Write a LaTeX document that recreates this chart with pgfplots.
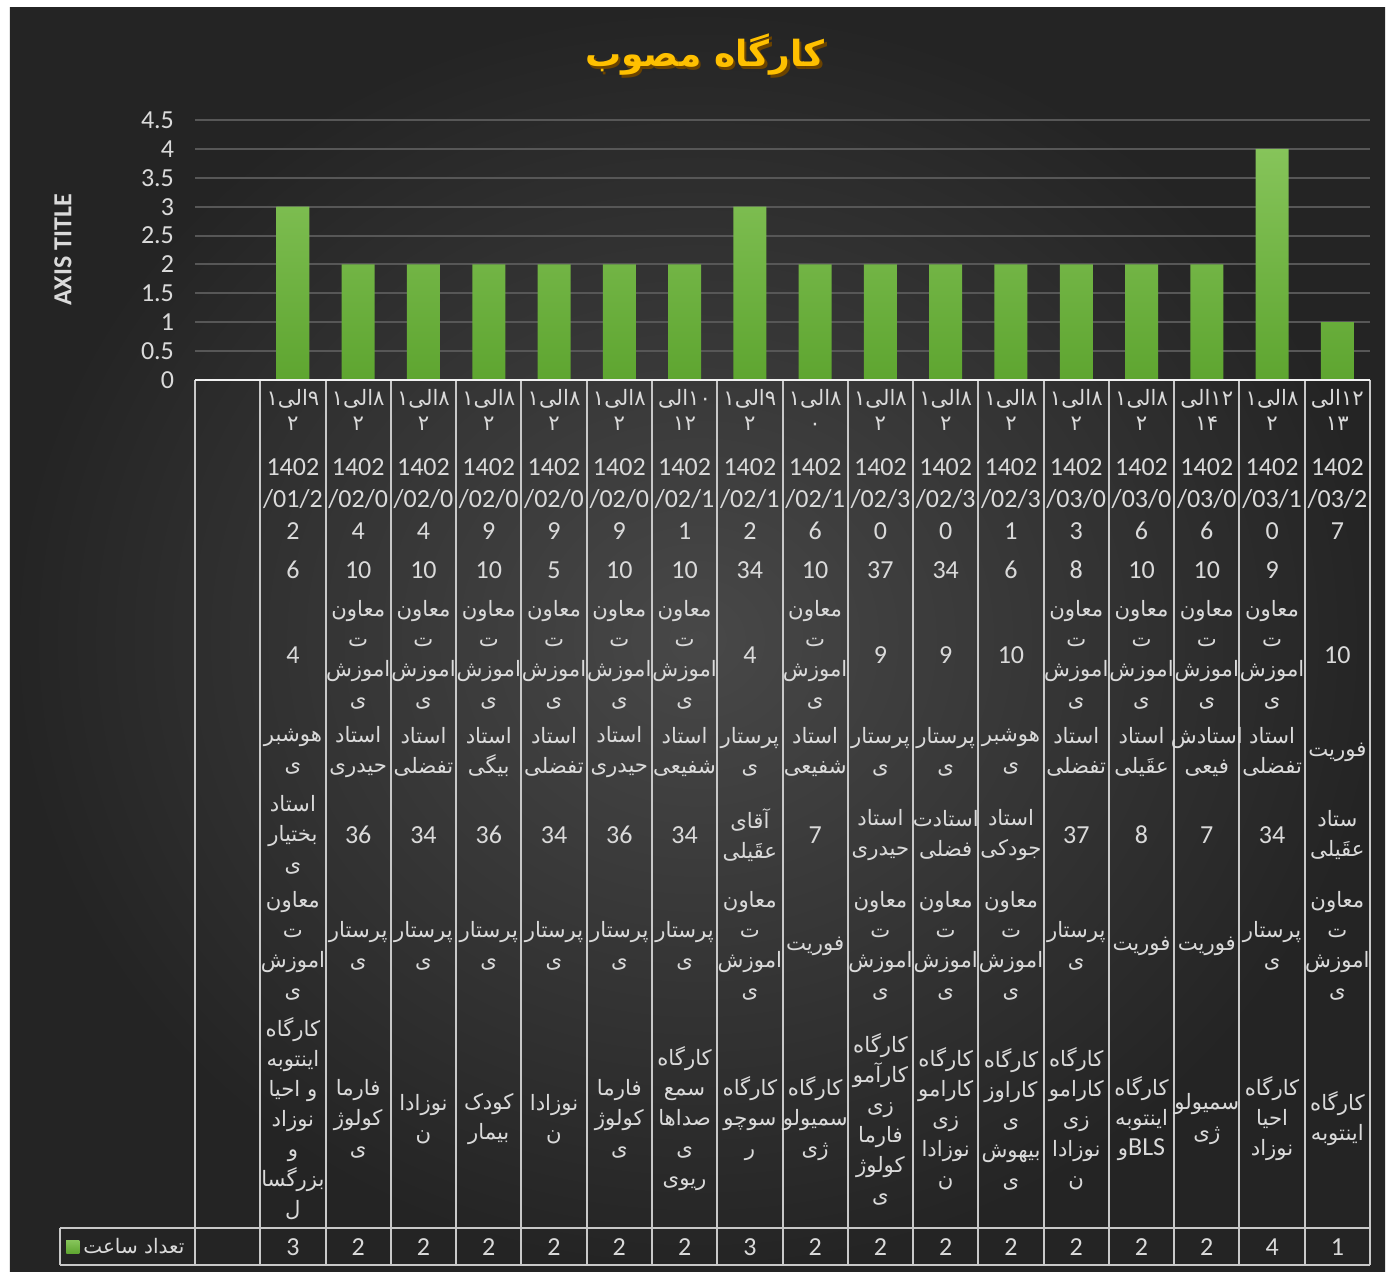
\documentclass[border=0pt]{standalone}
\usepackage{pgfplots}
\pgfplotsset{compat=1.18}
\usepackage{fontspec}
\setmainfont{Carlito}
\newfontfamily\arabicfont[Script=Arabic]{DejaVu Sans}
\TeXXeTstate=1
\definecolor{bgIn}{HTML}{484848}
\definecolor{bgOut}{HTML}{242424}
\definecolor{gridc}{HTML}{575757}
\definecolor{txt}{HTML}{DADADA}
\definecolor{linec}{HTML}{C8C8C8}
\definecolor{barTop}{HTML}{86C45A}
\definecolor{barBot}{HTML}{5EA530}
\definecolor{titlec}{HTML}{FFC000}
\definecolor{titlesh}{HTML}{6B4300}
\newcommand\fa[1]{\beginR #1\endR}
\newcommand\MA{\fa{معاون}\\\fa{ت}\\\fa{اموزش}\\\fa{ی}}
\newcommand\PR{\fa{پرستار}\\\fa{ی}}
\newcommand\EtT{\fa{۸الی۱}\\۲}
\newcommand\cell[3]{\node[cell] at ({(#1+0.5)*32.639pt},{(380-#2)*0.5pt}) {#3};}
\newcommand\fcell[3]{\node[fcell] at ({(#1+0.5)*32.639pt},{(380-#2)*0.5pt}) {#3};}
\newcommand\tcell[3]{\node[tcell] at ({(#1+0.5)*32.639pt},{(380-#2)*0.5pt}) {#3};}
\pgfdeclarelayer{bg}
\pgfsetlayers{bg,main}
\begin{document}
\begin{tikzpicture}[
 cell/.style={text=txt, align=center, inner sep=0pt, font=\fontsize{13}{16}\selectfont},
 fcell/.style={text=txt, align=center, inner sep=0pt, font=\arabicfont\fontsize{10.6}{15}\selectfont},
 tcell/.style={text=txt, align=center, inner sep=0pt, font=\arabicfont\fontsize{10.6}{12.5}\selectfont}]
\path[use as bounding box] (-97.5pt,-447pt) rectangle (598.5pt,190pt);
\begin{pgfonlayer}{bg}
\fill[white] (-97.5pt,-447pt) rectangle (598.5pt,190pt);
\shade[inner color=bgIn, outer color=bgOut] (-92.5pt,-445.5pt) rectangle (595pt,186pt);
\end{pgfonlayer}
\begin{axis}[at={(0pt,0pt)}, anchor=south west, scale only axis,
 width=587.5pt, height=130pt,
 xmin=0.5, xmax=18.5, ymin=0, ymax=4.5,
 xtick=\empty, ytick={0,0.5,1,1.5,2,2.5,3,3.5,4,4.5},
 ymajorgrids, grid style={gridc, line width=1pt},
 axis line style={draw=none}, major tick length=0pt,
 yticklabel style={text=txt, font=\fontsize{13}{15}\selectfont, xshift=-7pt},
 /pgf/number format/assume math mode=true,
 clip=false,
 legend style={at={(axis description cs:-0.1098,-3.3346)}, anchor=west, draw=none, fill=none, text=txt, font=\arabicfont\fontsize{10}{12}\selectfont, inner sep=0pt},
 legend image code/.code={\fill[barTop] (0pt,-3.25pt) rectangle (6.5pt,3.25pt);}
]
\addplot[ybar, bar width=16.5pt, draw=none, top color=barTop, bottom color=barBot]
 coordinates {(2,3) (3,2) (4,2) (5,2) (6,2) (7,2) (8,2) (9,3) (10,2) (11,2) (12,2) (13,2) (14,2) (15,2) (16,2) (17,4) (18,1)};
\addlegendentry{\fa{تعداد ساعت}}
\end{axis}
% table lines
\foreach \k in {0,...,18} \draw[linec, line width=1pt] ({\k*32.639pt},0pt) -- ({\k*32.639pt},-442.5pt);
\draw[linec, line width=1pt] (-67.5pt,-424pt) -- (587.5pt,-424pt);
\draw[linec, line width=1pt] (-67.5pt,-442.5pt) -- (587.5pt,-442.5pt);
\draw[linec, line width=1pt] (-67.5pt,-424pt) -- (-67.5pt,-442.5pt);
\draw[white!88!gray, line width=1.3pt] (0pt,0pt) -- (587.5pt,0pt);
% axis title and chart title
\node[rotate=90, text=txt, font=\bfseries\fontsize{13}{15}\selectfont] at (-66pt,65pt) {AXIS TITLE};
\node[text=titlesh, font=\arabicfont\bfseries\fontsize{18}{22}\selectfont] at (256.2pt,161.3pt) {\fa{کارگاه مصوب}};
\node[text=titlec, font=\arabicfont\bfseries\fontsize{18}{22}\selectfont] at (255pt,162.5pt) {\fa{کارگاه مصوب}};
% row 1: time
\tcell{1}{410}{\fa{۹الی۱}\\۲}
\tcell{2}{410}{\EtT}\tcell{3}{410}{\EtT}\tcell{4}{410}{\EtT}\tcell{5}{410}{\EtT}\tcell{6}{410}{\EtT}
\tcell{7}{410}{\fa{۱۰الی}\\۱۲}
\tcell{8}{410}{\fa{۹الی۱}\\۲}
\tcell{9}{410}{\fa{۸الی۱}\\۰}
\tcell{10}{410}{\EtT}\tcell{11}{410}{\EtT}\tcell{12}{410}{\EtT}\tcell{13}{410}{\EtT}\tcell{14}{410}{\EtT}
\tcell{15}{410}{\fa{۱۲الی}\\۱۴}
\tcell{16}{410}{\EtT}
\tcell{17}{410}{\fa{۱۲الی}\\۱۳}
% row 2: dates
\cell{1}{499}{1402\\/01/2\\2}
\cell{2}{499}{1402\\/02/0\\4}
\cell{3}{499}{1402\\/02/0\\4}
\cell{4}{499}{1402\\/02/0\\9}
\cell{5}{499}{1402\\/02/0\\9}
\cell{6}{499}{1402\\/02/0\\9}
\cell{7}{499}{1402\\/02/1\\1}
\cell{8}{499}{1402\\/02/1\\2}
\cell{9}{499}{1402\\/02/1\\6}
\cell{10}{499}{1402\\/02/3\\0}
\cell{11}{499}{1402\\/02/3\\0}
\cell{12}{499}{1402\\/02/3\\1}
\cell{13}{499}{1402\\/03/0\\3}
\cell{14}{499}{1402\\/03/0\\6}
\cell{15}{499}{1402\\/03/0\\6}
\cell{16}{499}{1402\\/03/1\\0}
\cell{17}{499}{1402\\/03/2\\7}
% row 3
\foreach \v [count=\i] in {6,10,10,10,5,10,10,34,10,37,34,6,8,10,10,9}
 \node[cell] at ({(\i+0.5)*32.639pt},{(380-570)*0.5pt}) {\v};
% row 4
\cell{1}{655}{4}
\fcell{2}{655}{\MA}\fcell{3}{655}{\MA}\fcell{4}{655}{\MA}\fcell{5}{655}{\MA}\fcell{6}{655}{\MA}\fcell{7}{655}{\MA}
\cell{8}{655}{4}
\fcell{9}{655}{\MA}
\cell{10}{655}{9}\cell{11}{655}{9}\cell{12}{655}{10}
\fcell{13}{655}{\MA}\fcell{14}{655}{\MA}\fcell{15}{655}{\MA}\fcell{16}{655}{\MA}
\cell{17}{655}{10}
% row 5
\fcell{1}{752}{\fa{هوشبر}\\\fa{ی}}
\fcell{2}{752}{\fa{استاد}\\\fa{حیدری}}
\fcell{3}{752}{\fa{استاد}\\\fa{تفضلی}}
\fcell{4}{752}{\fa{استاد}\\\fa{بیگی}}
\fcell{5}{752}{\fa{استاد}\\\fa{تفضلی}}
\fcell{6}{752}{\fa{استاد}\\\fa{حیدری}}
\fcell{7}{752}{\fa{استاد}\\\fa{شفیعی}}
\fcell{8}{752}{\PR}
\fcell{9}{752}{\fa{استاد}\\\fa{شفیعی}}
\fcell{10}{752}{\PR}
\fcell{11}{752}{\PR}
\fcell{12}{752}{\fa{هوشبر}\\\fa{ی}}
\fcell{13}{752}{\fa{استاد}\\\fa{تفضلی}}
\fcell{14}{752}{\fa{استاد}\\\fa{عقَیلی}}
\fcell{15}{752}{\fa{استادش}\\\fa{فیعی}}
\fcell{16}{752}{\fa{استاد}\\\fa{تفضلی}}
\fcell{17}{752}{\fa{فوریت}}
% row 6
\fcell{1}{835}{\fa{استاد}\\\fa{بختیار}\\\fa{ی}}
\cell{2}{835}{36}\cell{3}{835}{34}\cell{4}{835}{36}\cell{5}{835}{34}\cell{6}{835}{36}\cell{7}{835}{34}
\fcell{8}{835}{\fa{آقای}\\\fa{عقَیلی}}
\cell{9}{835}{7}
\fcell{10}{835}{\fa{استاد}\\\fa{حیدری}}
\fcell{11}{835}{\fa{استادت}\\\fa{فضلی}}
\fcell{12}{835}{\fa{استاد}\\\fa{جودکی}}
\cell{13}{835}{37}\cell{14}{835}{8}\cell{15}{835}{7}\cell{16}{835}{34}
\fcell{17}{835}{\fa{ستاد}\\\fa{عقَیلی}}
% row 7
\fcell{1}{946}{\MA}
\fcell{2}{946}{\PR}\fcell{3}{946}{\PR}\fcell{4}{946}{\PR}\fcell{5}{946}{\PR}\fcell{6}{946}{\PR}\fcell{7}{946}{\PR}
\fcell{8}{946}{\MA}
\fcell{9}{946}{\fa{فوریت}}
\fcell{10}{946}{\MA}\fcell{11}{946}{\MA}\fcell{12}{946}{\MA}
\fcell{13}{946}{\PR}
\fcell{14}{946}{\fa{فوریت}}
\fcell{15}{946}{\fa{فوریت}}
\fcell{16}{946}{\PR}
\fcell{17}{946}{\MA}
% row 8
\fcell{1}{1119}{\fa{کارگاه}\\\fa{اینتوبه}\\\fa{و احیا}\\\fa{نوزاد}\\\fa{و}\\\fa{بزرگسا}\\\fa{ل}}
\fcell{2}{1119}{\fa{فارما}\\\fa{کولوژ}\\\fa{ی}}
\fcell{3}{1119}{\fa{نوزادا}\\\fa{ن}}
\fcell{4}{1119}{\fa{کودک}\\\fa{بیمار}}
\fcell{5}{1119}{\fa{نوزادا}\\\fa{ن}}
\fcell{6}{1119}{\fa{فارما}\\\fa{کولوژ}\\\fa{ی}}
\fcell{7}{1119}{\fa{کارگاه}\\\fa{سمع}\\\fa{صداها}\\\fa{ی}\\\fa{ریوی}}
\fcell{8}{1119}{\fa{کارگاه}\\\fa{سوچو}\\\fa{ر}}
\fcell{9}{1119}{\fa{کارگاه}\\\fa{سمیولو}\\\fa{ژی}}
\fcell{10}{1119}{\fa{کارگاه}\\\fa{کارآمو}\\\fa{زی}\\\fa{فارما}\\\fa{کولوژ}\\\fa{ی}}
\fcell{11}{1119}{\fa{کارگاه}\\\fa{کارامو}\\\fa{زی}\\\fa{نوزادا}\\\fa{ن}}
\fcell{12}{1119}{\fa{کارگاه}\\\fa{کاراوز}\\\fa{ی}\\\fa{بیهوش}\\\fa{ی}}
\fcell{13}{1119}{\fa{کارگاه}\\\fa{کارامو}\\\fa{زی}\\\fa{نوزادا}\\\fa{ن}}
\fcell{14}{1119}{\fa{کارگاه}\\\fa{اینتوبه}\\و{\fontsize{13}{15}\selectfont\rmfamily BLS}}
\fcell{15}{1119}{\fa{سمیولو}\\\fa{ژی}}
\fcell{16}{1119}{\fa{کارگاه}\\\fa{احیا}\\\fa{نوزاد}}
\fcell{17}{1119}{\fa{کارگاه}\\\fa{اینتوبه}}
% row 9: values
\foreach \v [count=\i] in {3,2,2,2,2,2,2,3,2,2,2,2,2,2,2,4,1}
 \node[cell] at ({(\i+0.5)*32.639pt},-433.5pt) {\v};
\end{tikzpicture}
\end{document}
